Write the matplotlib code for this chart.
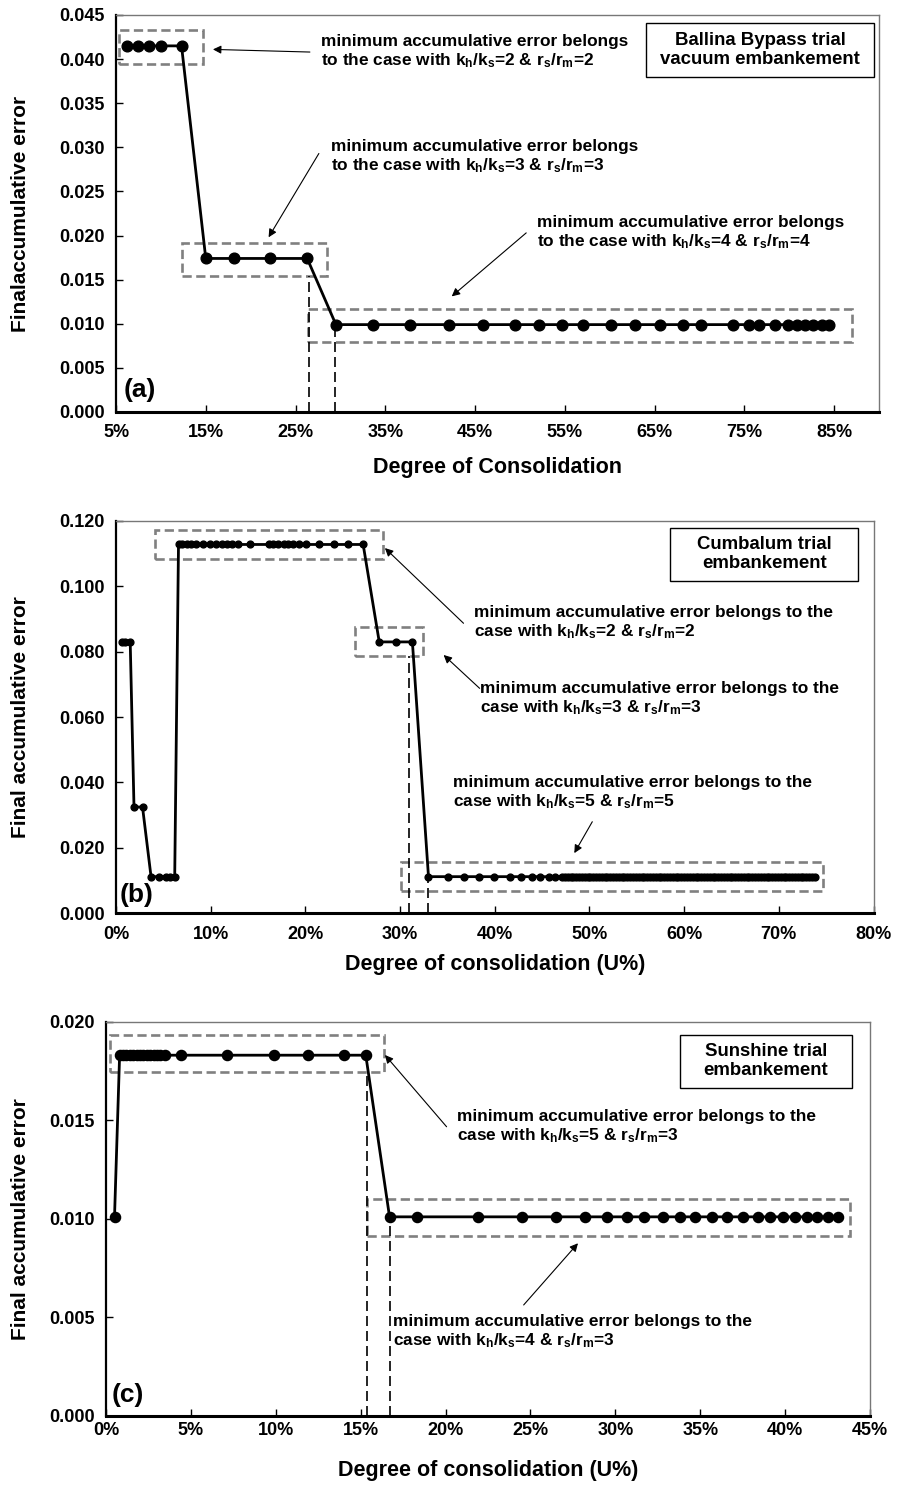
import numpy as np
import matplotlib
matplotlib.use('Agg')
import matplotlib.pyplot as plt
from matplotlib.patches import Rectangle
from matplotlib.ticker import PercentFormatter, FormatStrFormatter

plt.rcParams['font.family'] = ['Liberation Sans', 'DejaVu Sans']
plt.rcParams['font.weight'] = 'bold'
plt.rcParams['mathtext.fontset'] = 'custom'
plt.rcParams['mathtext.rm'] = 'Liberation Sans:bold'
plt.rcParams['mathtext.it'] = 'Liberation Sans:bold'
plt.rcParams['mathtext.bf'] = 'Liberation Sans:bold'
plt.rcParams['mathtext.default'] = 'rm'

########## data (x in % consolidation, y = final accumulative error)

# (a) Ballina Bypass
a_u = [6.2, 7.4, 8.7, 10.0, 12.3,
       15.0, 18.1, 22.2, 26.3,
       29.5, 33.6, 37.8, 42.1, 45.9, 49.5, 52.1, 54.7, 57.0, 60.1, 62.8,
       65.6, 68.2, 70.2, 73.7, 75.5, 76.6, 78.4, 79.9, 80.9, 81.8, 82.7,
       83.7, 84.4]
a_err = [0.0415] * 5 + [0.0174] * 4 + [0.0099] * 24

# (b) Cumbalum
b_u = [0.6, 1.0, 1.5,
       1.9, 2.8,
       3.7, 4.5, 5.3, 5.7, 6.2,
       6.6, 7.0, 7.5, 7.9, 8.5, 9.2, 9.9, 10.6, 11.2, 11.7, 12.2, 12.9,
       14.2, 16.2, 16.6, 17.1, 17.7, 18.2, 18.7, 19.3, 20.1, 21.4, 23.0,
       24.5, 26.1,
       27.8, 29.6, 31.3,
       33.0, 35.1, 36.8, 38.3, 39.9, 41.6, 42.8, 43.9, 44.8, 45.7, 46.4,
       47.1, 47.4, 47.7, 48.0, 48.3, 48.6, 48.9, 49.2, 49.5, 49.8, 50.1,
       50.4, 50.7, 51.0, 51.3, 51.6, 51.9, 52.2, 52.5, 52.8, 53.1, 53.4,
       53.7, 54.0, 54.3, 54.6, 54.9, 55.2, 55.5, 55.8, 56.1, 56.4, 56.7,
       57.0, 57.3, 57.6, 57.9, 58.2, 58.5, 58.8, 59.1, 59.4, 59.7, 60.0,
       60.3, 60.6, 60.9, 61.2, 61.5, 61.8, 62.1, 62.4, 62.7, 63.0, 63.3,
       63.6, 63.9, 64.2, 64.5, 64.8, 65.1, 65.4, 65.7, 66.0, 66.3, 66.6,
       66.9, 67.2, 67.5, 67.8, 68.1, 68.4, 68.7, 69.0, 69.3, 69.6, 69.9,
       70.2, 70.5, 70.8, 71.1, 71.4, 71.7, 72.0, 72.3, 72.6, 72.9, 73.2,
       73.5, 73.8]
b_err = ([0.0830] * 3 + [0.0325] * 2 + [0.0112] * 5 + [0.1128] * 25
         + [0.0830] * 3 + [0.0112] * (len(b_u) - 38))

# (c) Sunshine
c_u = [0.5,
       0.8, 1.0, 1.2, 1.4, 1.6, 1.8, 2.0, 2.2, 2.4, 2.6, 2.8, 3.0, 3.2, 3.5,
       4.4, 7.1, 9.9, 11.9, 14.0, 15.3,
       16.7, 18.3, 21.9, 24.5, 26.5, 28.2, 29.5, 30.7, 31.7, 32.8, 33.8,
       34.7, 35.7, 36.6, 37.5, 38.4, 39.1, 39.9, 40.6, 41.3, 41.9, 42.5,
       43.1]
c_err = [0.0101] + [0.0183] * 20 + [0.0101] * 23

case_a = ['minimum accumulative error belongs\nto the case with k$_h$/k$_s$=2 & r$_s$/r$_m$=2',
          'minimum accumulative error belongs\nto the case with k$_h$/k$_s$=3 & r$_s$/r$_m$=3',
          'minimum accumulative error belongs\nto the case with k$_h$/k$_s$=4 & r$_s$/r$_m$=4']
case_b = ['minimum accumulative error belongs to the\ncase with k$_h$/k$_s$=2 & r$_s$/r$_m$=2',
          'minimum accumulative error belongs to the\ncase with k$_h$/k$_s$=3 & r$_s$/r$_m$=3',
          'minimum accumulative error belongs to the\ncase with k$_h$/k$_s$=5 & r$_s$/r$_m$=5']
case_c = ['minimum accumulative error belongs to the\ncase with k$_h$/k$_s$=5 & r$_s$/r$_m$=3',
          'minimum accumulative error belongs to the\ncase with k$_h$/k$_s$=4 & r$_s$/r$_m$=3']


def style_axes(ax, xpad):
    for s in ['top', 'right']:
        ax.spines[s].set_color('#777777')
        ax.spines[s].set_linewidth(1.0)
    ax.spines['left'].set_color('black')
    ax.spines['left'].set_linewidth(1.6)
    ax.spines['bottom'].set_color('black')
    ax.spines['bottom'].set_linewidth(2.2)
    ax.tick_params(direction='in', length=5, width=1, labelsize=13)
    ax.tick_params(axis='y', pad=8)
    ax.tick_params(axis='x', pad=xpad)
    ax.xaxis.set_major_formatter(PercentFormatter(xmax=100, decimals=0))
    ax.yaxis.set_major_formatter(FormatStrFormatter('%.3f'))
    for lab in ax.get_xticklabels() + ax.get_yticklabels():
        lab.set_fontweight('bold')


def dbox(ax, x0, x1, y0, y1):
    ax.add_patch(Rectangle((x0, y0), x1 - x0, y1 - y0, fill=False,
                           edgecolor='#808080', lw=1.9, ls=(0, (3.5, 1.7)), zorder=2))


def vdash(ax, x, ytop):
    ax.plot([x, x], [0, ytop], color='black', lw=1.2, ls=(0, (6, 3)), zorder=2)


def note(ax, txt, xy_txt, start, end):
    ax.text(xy_txt[0], xy_txt[1], txt, fontsize=12.4, fontweight='bold',
            ha='left', va='center', linespacing=1.15)
    ax.annotate('', xy=end, xytext=start,
                arrowprops=dict(arrowstyle='-|>', color='black', lw=0.8,
                                mutation_scale=12, shrinkA=0, shrinkB=0))


def infobox(ax, txt, x0, x1, y0, y1):
    ax.add_patch(Rectangle((x0, y0), x1 - x0, y1 - y0, fill=True, fc='white',
                           edgecolor='black', lw=1.0, zorder=4))
    ax.text((x0 + x1) / 2, (y0 + y1) / 2, txt, fontsize=13.4, fontweight='bold',
            ha='center', va='center', linespacing=1.15, zorder=5)


fig = plt.figure(figsize=(9.07, 14.85), dpi=100)

# ---------------- (a)
ax = fig.add_axes([0.1279, 0.7226, 0.8412, 0.2673])
ax.plot(a_u, a_err, color='black', lw=2, marker='o', ms=7.7, zorder=3)
ax.set_xlim(5, 90)
ax.set_ylim(0, 0.045)
ax.set_xticks(np.arange(5, 90, 10))
ax.set_yticks(np.arange(0, 0.0451, 0.005))
style_axes(ax, 9)
dbox(ax, 5.3, 14.7, 0.0395, 0.0433)
dbox(ax, 12.3, 28.5, 0.0154, 0.0191)
dbox(ax, 26.4, 87.0, 0.0079, 0.01164)
vdash(ax, 26.5, 0.0154)
vdash(ax, 29.4, 0.0099)
note(ax, case_a[0], (27.8, 0.0408), (26.6, 0.0408), (15.8, 0.0411))
note(ax, case_a[1], (29.0, 0.0289), (27.6, 0.0293), (22.0, 0.0198))
note(ax, case_a[2], (51.9, 0.0203), (50.7, 0.0203), (42.4, 0.0131))
infobox(ax, 'Ballina Bypass trial\nvacuum embankement', 64.05, 89.45, 0.0380, 0.0441)
ax.text(5.9, 0.0025, '(a)', fontsize=19, fontweight='bold', ha='left', va='center')
ax.set_xlabel('Degree of Consolidation', fontsize=15.5, fontweight='bold')
ax.set_ylabel('Finalaccumulative error', fontsize=15, fontweight='bold')
ax.xaxis.set_label_coords(0.5, -0.113)
ax.yaxis.set_label_coords(-0.113, 0.5)

# ---------------- (b)
ax = fig.add_axes([0.1279, 0.385, 0.8352, 0.2642])
ax.plot(b_u, b_err, color='black', lw=2, marker='o', ms=4.9, zorder=3)
ax.set_xlim(0, 80)
ax.set_ylim(0, 0.12)
ax.set_xticks(np.arange(0, 81, 10))
ax.set_yticks(np.arange(0, 0.121, 0.02))
style_axes(ax, 9)
dbox(ax, 4.1, 28.2, 0.1083, 0.1172)
dbox(ax, 25.2, 32.45, 0.0787, 0.0877)
dbox(ax, 30.06, 74.7, 0.0069, 0.0158)
vdash(ax, 30.97, 0.0787)
vdash(ax, 32.98, 0.0112)
note(ax, case_b[0], (37.8, 0.0887), (36.7, 0.0887), (28.4, 0.1117))
note(ax, case_b[1], (38.4, 0.0655), (38.4, 0.0688), (34.6, 0.0790))
note(ax, case_b[2], (35.6, 0.0367), (50.3, 0.0280), (48.4, 0.0184))
infobox(ax, 'Cumbalum trial\nembankement', 58.5, 78.4, 0.1017, 0.1178)
ax.text(0.4, 0.0056, '(b)', fontsize=19, fontweight='bold', ha='left', va='center')
ax.set_xlabel('Degree of consolidation (U%)', fontsize=15.5, fontweight='bold')
ax.set_ylabel('Final accumulative error', fontsize=15, fontweight='bold')
ax.xaxis.set_label_coords(0.5, -0.104)
ax.yaxis.set_label_coords(-0.1135, 0.5)

# ---------------- (c)
ax = fig.add_axes([0.1169, 0.0465, 0.8423, 0.2655])
ax.plot(c_u, c_err, color='black', lw=2, marker='o', ms=7.3, zorder=3)
ax.set_xlim(0, 45)
ax.set_ylim(0, 0.02)
ax.set_xticks(np.arange(0, 46, 5))
ax.set_yticks(np.arange(0, 0.0201, 0.005))
style_axes(ax, 4)
dbox(ax, 0.24, 16.4, 0.01745, 0.01933)
dbox(ax, 15.4, 43.8, 0.00913, 0.01099)
vdash(ax, 15.4, 0.01745)
vdash(ax, 16.7, 0.0101)
note(ax, case_c[0], (20.7, 0.01466), (20.06, 0.01467), (16.43, 0.01831))
note(ax, case_c[1], (16.92, 0.00426), (24.6, 0.00563), (27.8, 0.00876))
infobox(ax, 'Sunshine trial\nembankement', 33.8, 43.92, 0.01665, 0.01932)
ax.text(0.35, 0.00107, '(c)', fontsize=19, fontweight='bold', ha='left', va='center')
ax.set_xlabel('Degree of consolidation (U%)', fontsize=15.5, fontweight='bold')
ax.set_ylabel('Final accumulative error', fontsize=15, fontweight='bold')
ax.xaxis.set_label_coords(0.5, -0.112)
ax.yaxis.set_label_coords(-0.0995, 0.5)

fig.savefig('out.png', dpi=100)
